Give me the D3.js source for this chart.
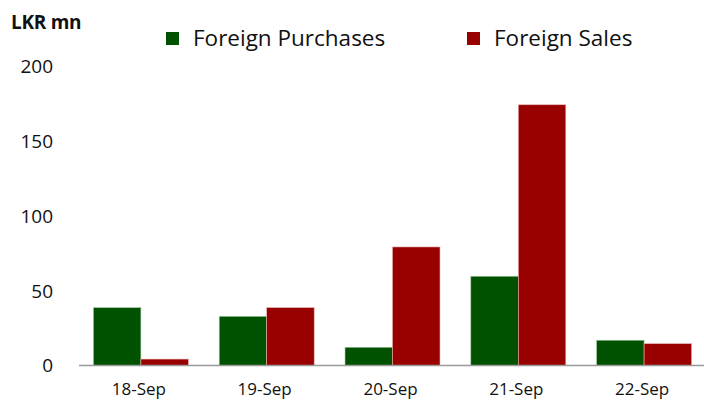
<!DOCTYPE html>
<html><head><meta charset="utf-8">
<script src="https://cdn.jsdelivr.net/npm/d3@7"></script>
<style>body{margin:0;background:#fff}svg{display:block}text{font-family:"Open Sans","Noto Sans",sans-serif;fill:#111}</style>
</head><body><div id="c"></div>
<script>
const categories = ["18-Sep","19-Sep","20-Sep","21-Sep","22-Sep"];
const purchases = [38.7, 32.9, 12.2, 59.7, 16.9];
const sales = [4.3, 38.7, 79.3, 174.4, 14.6];
const yTicks = [0, 50, 100, 150, 200];
const seriesNames = ["Foreign Purchases", "Foreign Sales"];
const colors = ["#005200", "#990000"];

const W = 704, H = 400;
const svg = d3.select("#c").append("svg").attr("width", W).attr("height", H);
const x = d3.scaleBand().domain(categories).range([78, 707]).paddingInner(0.245).paddingOuter(0.1225);
const y = d3.scaleLinear().domain([0, 200]).range([365.5, 66.5]);
const x1 = d3.scaleBand().domain([0, 1]).range([0, x.bandwidth()]);

const data = categories.map((c, i) => ({c, v: [purchases[i], sales[i]]}));
const g = svg.append("g");
g.selectAll("g.grp").data(data).join("g").attr("class","grp")
  .attr("transform", d => `translate(${x(d.c)},0)`)
  .selectAll("rect").data(d => d.v).join("rect")
  .attr("x", (v, j) => x1(j)).attr("width", x1.bandwidth())
  .attr("y", v => y(v)).attr("height", v => y(0) - y(v))
  .attr("fill", (v, j) => colors[j])
  .attr("stroke", (v, j) => j ? "#e8b0b0" : "#a8c8a8").attr("stroke-width", 0.6);

svg.append("line").attr("x1", 79).attr("x2", 704).attr("y1", 365.5).attr("y2", 365.5)
  .attr("stroke", "#9a9a9a").attr("stroke-width", 1.5);

svg.selectAll("text.yt").data(yTicks).join("text").attr("class","yt")
  .attr("x", 53).attr("y", d => y(d)).attr("dy", "0.36em").attr("text-anchor","end")
  .attr("font-size", 19).text(d => d);

svg.selectAll("text.xt").data(categories).join("text").attr("class","xt")
  .attr("x", d => x(d) + x.bandwidth()/2 - 2).attr("y", 389).attr("dy","0.36em")
  .attr("text-anchor","middle").attr("font-size", 17).text(d => d);

svg.append("text").attr("x", 11).attr("y", 29)
  .attr("font-size", 19).attr("font-weight","bold").attr("letter-spacing", -0.3).text("LKR mn");

const legX = [166, 467];
seriesNames.forEach((n, i) => {
  svg.append("rect").attr("x", legX[i]).attr("y", 32).attr("width", 13).attr("height", 13).attr("fill", colors[i]);
  svg.append("text").attr("x", legX[i] + 27).attr("y", 45.5).attr("font-size", 22.5).text(n);
});
</script></body></html>
